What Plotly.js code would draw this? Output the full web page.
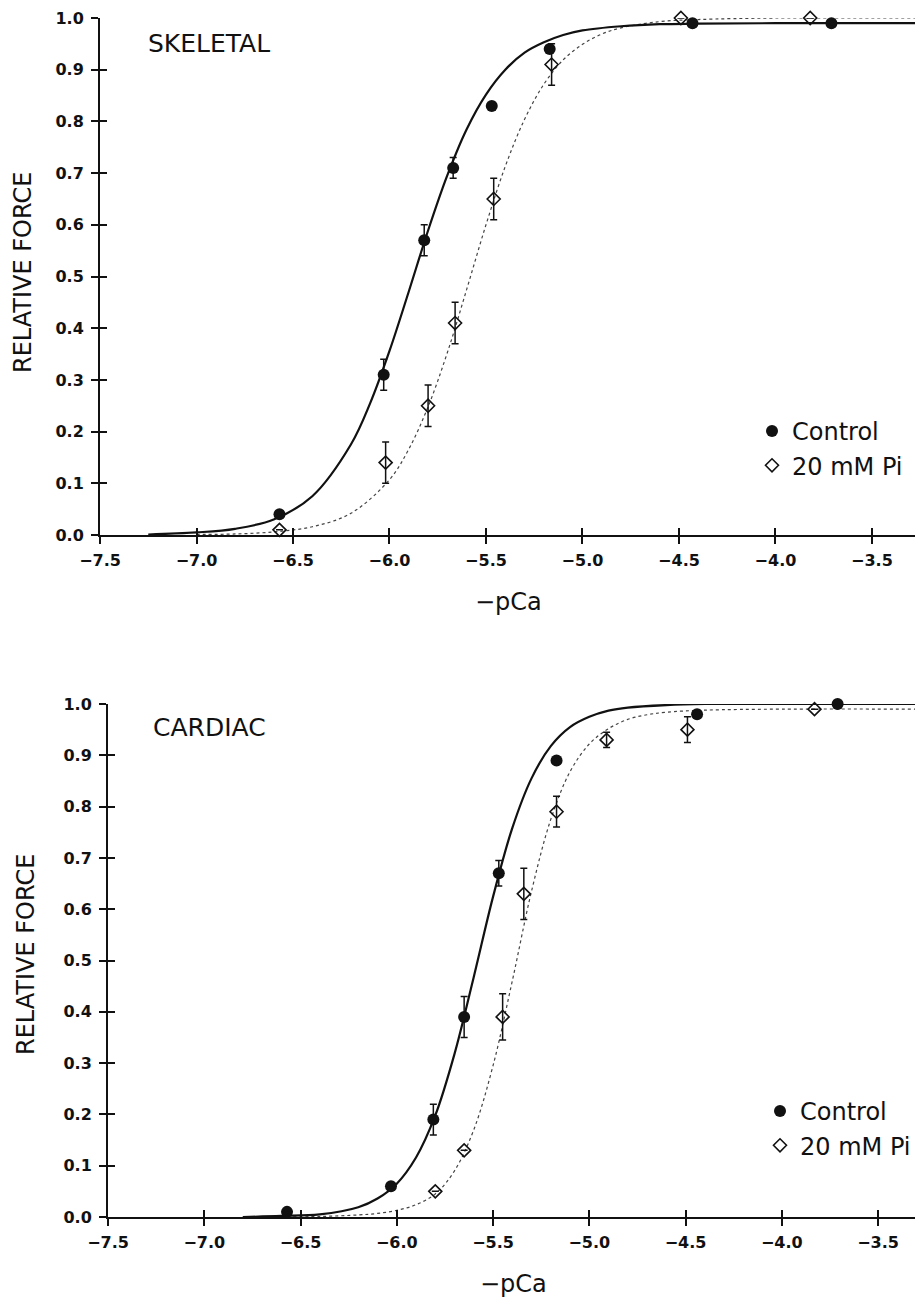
<!DOCTYPE html>
<html>
<head>
<meta charset="utf-8">
<script src="https://cdn.plot.ly/plotly-3.0.1.min.js"></script>
<style>html,body{margin:0;padding:0;background:#fff;}#chart{width:915px;height:1298px;}</style>
</head>
<body>
<div id="chart"></div>
<script>
// ---------- Data ----------
const xTickVals = [-7.5, -7.0, -6.5, -6.0, -5.5, -5.0, -4.5, -4.0, -3.5];
const yTickVals = [0, 0.1, 0.2, 0.3, 0.4, 0.5, 0.6, 0.7, 0.8, 0.9, 1.0];

// Skeletal – measured points
const skelCtrlX   = [-6.57, -6.03, -5.82, -5.67, -5.47, -5.17, -4.43, -3.71];
const skelCtrlY   = [0.04, 0.31, 0.57, 0.71, 0.83, 0.94, 0.99, 0.99];
const skelCtrlErr = [0, 0.03, 0.03, 0.02, 0, 0, 0, 0];
const skelPiX     = [-6.57, -6.02, -5.80, -5.66, -5.46, -5.16, -4.49, -3.82];
const skelPiY     = [0.01, 0.14, 0.25, 0.41, 0.65, 0.91, 1.00, 1.00];
const skelPiErr   = [0, 0.04, 0.04, 0.04, 0.04, 0.04, 0, 0];

// Skeletal – fitted curves
const skelCtrlFitX = [-7.25, -7.0, -6.8, -6.6, -6.4, -6.2, -6.1, -6.0, -5.9, -5.8, -5.7, -5.6, -5.5, -5.4, -5.3, -5.2, -5.1, -5.0, -4.8, -4.6, -4.4, -4.0, -3.277];
const skelCtrlFitY = [0.001, 0.005, 0.012, 0.030, 0.075, 0.175, 0.255, 0.356, 0.471, 0.589, 0.696, 0.785, 0.852, 0.900, 0.933, 0.953, 0.967, 0.976, 0.984, 0.988, 0.989, 0.99, 0.99];
const skelPiFitX   = [-7.0, -6.8, -6.6, -6.4, -6.2, -6.0, -5.9, -5.8, -5.7, -5.6, -5.5, -5.4, -5.3, -5.2, -5.1, -5.0, -4.9, -4.8, -4.6, -4.4, -4.0, -3.277];
const skelPiFitY   = [0.001, 0.002, 0.006, 0.016, 0.042, 0.107, 0.166, 0.248, 0.353, 0.475, 0.600, 0.713, 0.804, 0.872, 0.919, 0.949, 0.969, 0.981, 0.993, 0.997, 1.0, 1.0];

// Cardiac – measured points
const cardCtrlX   = [-6.57, -6.03, -5.81, -5.65, -5.47, -5.17, -4.44, -3.71];
const cardCtrlY   = [0.01, 0.06, 0.19, 0.39, 0.67, 0.89, 0.98, 1.00];
const cardCtrlErr = [0, 0, 0.03, 0.04, 0.025, 0, 0, 0];
const cardPiX     = [-5.80, -5.65, -5.45, -5.34, -5.17, -4.91, -4.49, -3.83];
const cardPiY     = [0.05, 0.13, 0.39, 0.63, 0.79, 0.93, 0.95, 0.99];
const cardPiErr   = [0, 0, 0.045, 0.05, 0.03, 0.015, 0.025, 0];

// Cardiac – fitted curves
const cardCtrlFitX = [-6.8, -6.6, -6.4, -6.2, -6.1, -6.0, -5.9, -5.8, -5.7, -5.6, -5.5, -5.4, -5.3, -5.2, -5.1, -5.0, -4.9, -4.8, -4.6, -4.4, -4.0, -3.308];
const cardCtrlFitY = [0.000, 0.002, 0.005, 0.019, 0.036, 0.065, 0.116, 0.198, 0.318, 0.468, 0.624, 0.758, 0.855, 0.918, 0.955, 0.975, 0.987, 0.993, 0.998, 1.0, 1.0, 1.0];
const cardPiFitX   = [-6.6, -6.4, -6.2, -6.1, -6.0, -5.9, -5.8, -5.7, -5.6, -5.5, -5.4, -5.3, -5.2, -5.1, -5.0, -4.9, -4.8, -4.7, -4.6, -4.4, -4.0, -3.308];
const cardPiFitY   = [0.000, 0.001, 0.004, 0.007, 0.013, 0.024, 0.045, 0.090, 0.170, 0.295, 0.460, 0.635, 0.775, 0.868, 0.922, 0.952, 0.970, 0.979, 0.984, 0.988, 0.99, 0.99];

const seriesNames = ['Control', '20 mM Pi'];
const panelNames = ['SKELETAL', 'CARDIAC'];
const xTitle = '\u2212pCa';
const yTitle = 'RELATIVE FORCE';

// ---------- Styling ----------
const INK = '#111';
const tickFont = {family: 'DejaVu Sans, sans-serif', size: 16, color: INK, weight: 'bold'};
const textFont = {family: 'DejaVu Sans, sans-serif', size: 25, color: INK};
const axTitleFont = {family: 'DejaVu Sans, sans-serif', size: 24, color: INK};
const legFont  = {family: 'DejaVu Sans, sans-serif', size: 24, color: INK};

function fitTrace(x, y, xa, ya, solid) {
  return {x, y, xaxis: xa, yaxis: ya, type: 'scatter', mode: 'lines', showlegend: false,
    line: solid ? {color: INK, width: 2.2, shape: 'spline', smoothing: 1} :
                  {color: '#444', width: 1.2, dash: 'dot', shape: 'spline', smoothing: 1},
    cliponaxis: false, hoverinfo: 'skip'};
}
function ptTrace(x, y, err, xa, ya, name, ctrl, legend) {
  return {x, y, xaxis: xa, yaxis: ya, type: 'scatter', mode: 'markers', name, legend,
    cliponaxis: false,
    marker: ctrl ? {symbol: 'circle', size: 12, color: INK, line: {width: 0}}
                 : {symbol: 'diamond-open', size: 10, color: INK, line: {width: 1.6, color: INK}},
    error_y: {type: 'data', array: err, visible: true, color: INK, thickness: 1.5, width: 3.5}};
}
// empty carriers so that the inner-tick overlay axes are drawn
function carrier(xa, ya) {
  return {x: [], y: [], xaxis: xa, yaxis: ya, type: 'scatter', mode: 'markers', showlegend: false, hoverinfo: 'skip'};
}

const traces = [
  fitTrace(skelPiFitX, skelPiFitY, 'x', 'y', false),
  fitTrace(skelCtrlFitX, skelCtrlFitY, 'x', 'y', true),
  ptTrace(skelCtrlX, skelCtrlY, skelCtrlErr, 'x', 'y', seriesNames[0], true, 'legend'),
  ptTrace(skelPiX, skelPiY, skelPiErr, 'x', 'y', seriesNames[1], false, 'legend'),
  fitTrace(cardPiFitX, cardPiFitY, 'x2', 'y2', false),
  fitTrace(cardCtrlFitX, cardCtrlFitY, 'x2', 'y2', true),
  ptTrace(cardCtrlX, cardCtrlY, cardCtrlErr, 'x2', 'y2', seriesNames[0], true, 'legend2'),
  ptTrace(cardPiX, cardPiY, cardPiErr, 'x2', 'y2', seriesNames[1], false, 'legend2'),
  carrier('x3', 'y3'),
  carrier('x4', 'y4'),
];

const H = 1298, L = 100, W = 815;
const px2x = p => (p - L) / W;
const py2y = p => 1 - p / H;

function xAx(domain, range, anchor, outside) {
  return {domain, range, anchor, tickmode: 'array', tickvals: xTickVals, tickformat: '.1f',
    ticks: outside ? 'outside' : 'inside', ticklen: 7, tickwidth: 2, tickcolor: INK,
    showline: outside, linecolor: INK, linewidth: 2, showgrid: false, zeroline: false,
    showticklabels: outside, tickfont: tickFont, ticklabelstandoff: 3, fixedrange: true};
}
function yAx(domain, anchor, outside) {
  return {domain, range: [0, 1], anchor, tickmode: 'array', tickvals: yTickVals, tickformat: '.1f',
    ticks: outside ? 'outside' : 'inside', ticklen: 7, tickwidth: 2, tickcolor: INK,
    showline: outside, linecolor: INK, linewidth: 2, showgrid: false, zeroline: false,
    showticklabels: outside, tickfont: tickFont, ticklabelstandoff: 4, fixedrange: true};
}

const topDom = [py2y(535), py2y(18)];
const botDom = [py2y(1217), py2y(704)];
const topX = [-7.5, -3.277];
const botX = [-7.5, -3.308];
const botXDom = [px2x(108), 1];

const layout = {
  width: 915, height: 1298,
  paper_bgcolor: '#fff', plot_bgcolor: 'rgba(0,0,0,0)',
  margin: {l: L, r: 0, t: 0, b: 0, pad: 0, autoexpand: false},
  showlegend: true,
  xaxis: xAx([0, 1], topX, 'y', true),
  yaxis: yAx(topDom, 'x', true),
  xaxis3: Object.assign(xAx([0, 1], topX, 'y3', false), {overlaying: 'x'}),
  yaxis3: Object.assign(yAx(topDom, 'x3', false), {overlaying: 'y'}),
  xaxis2: xAx(botXDom, botX, 'y2', true),
  yaxis2: yAx(botDom, 'x2', true),
  xaxis4: Object.assign(xAx(botXDom, botX, 'y4', false), {overlaying: 'x2'}),
  yaxis4: Object.assign(yAx(botDom, 'x4', false), {overlaying: 'y2'}),
  legend: {x: px2x(752), y: py2y(409), xanchor: 'left', yanchor: 'top', bgcolor: 'rgba(0,0,0,0)',
    font: legFont, itemwidth: 30, tracegroupgap: 0},
  legend2: {x: px2x(760), y: py2y(1089), xanchor: 'left', yanchor: 'top', bgcolor: 'rgba(0,0,0,0)',
    font: legFont, itemwidth: 30, tracegroupgap: 0},
  annotations: [
    {text: panelNames[0], xref: 'paper', yref: 'paper', x: px2x(146), y: py2y(43), xanchor: 'left', yanchor: 'middle', showarrow: false, font: textFont},
    {text: panelNames[1], xref: 'paper', yref: 'paper', x: px2x(151), y: py2y(727), xanchor: 'left', yanchor: 'middle', showarrow: false, font: textFont},
    {text: xTitle, xref: 'paper', yref: 'paper', x: px2x(508), y: py2y(602), xanchor: 'center', yanchor: 'middle', showarrow: false, font: axTitleFont},
    {text: xTitle, xref: 'paper', yref: 'paper', x: px2x(513), y: py2y(1284), xanchor: 'center', yanchor: 'middle', showarrow: false, font: axTitleFont},
    {text: yTitle, xref: 'paper', yref: 'paper', x: px2x(23), y: py2y(273), xanchor: 'center', yanchor: 'middle', textangle: -90, showarrow: false, font: axTitleFont},
    {text: yTitle, xref: 'paper', yref: 'paper', x: px2x(26), y: py2y(955), xanchor: 'center', yanchor: 'middle', textangle: -90, showarrow: false, font: axTitleFont},
  ],
};

Plotly.newPlot('chart', traces, layout, {staticPlot: true, displayModeBar: false});
</script>
</body>
</html>
